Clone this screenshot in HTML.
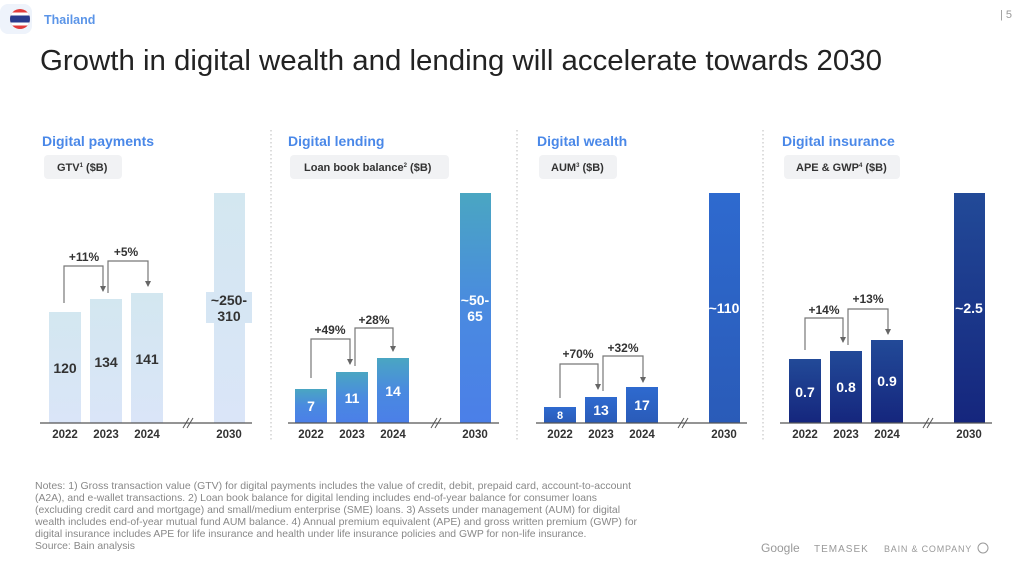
<!DOCTYPE html>
<html><head><meta charset="utf-8"><style>
body{margin:0;width:1024px;height:565px;overflow:hidden;background:#fff;font-family:"Liberation Sans",Arial,sans-serif}
svg text{font-family:"Liberation Sans",Arial,sans-serif}
</style></head><body>
<svg width="1024" height="565" viewBox="0 0 1024 565" xmlns="http://www.w3.org/2000/svg">
<defs>
<linearGradient id="gp" x1="0" y1="0" x2="0" y2="1"><stop offset="0" stop-color="#d3e7f0"/><stop offset="1" stop-color="#dae5f8"/></linearGradient>
<linearGradient id="gl" x1="0" y1="0" x2="0" y2="1"><stop offset="0" stop-color="#4aa6c2"/><stop offset="0.5" stop-color="#4a8ae0"/><stop offset="1" stop-color="#4b7fe8"/></linearGradient>
<linearGradient id="gw" x1="0" y1="0" x2="0" y2="1"><stop offset="0" stop-color="#2e6acf"/><stop offset="1" stop-color="#2a5bb8"/></linearGradient>
<linearGradient id="gi" x1="0" y1="0" x2="0" y2="1"><stop offset="0" stop-color="#224a98"/><stop offset="1" stop-color="#15267d"/></linearGradient>
<marker id="ar" markerWidth="6" markerHeight="6" refX="3" refY="5" orient="0" markerUnits="userSpaceOnUse"><path d="M0,0 L6,0 L3,6 Z" fill="#666"/></marker>
</defs>
<rect x="0" y="4" width="32" height="30" rx="8" fill="#eef3fb"/>
<clipPath id="fc"><circle cx="20" cy="19" r="10"/></clipPath>
<g clip-path="url(#fc)">
<rect x="10" y="9" width="20" height="20" fill="#e23b3b"/>
<rect x="10" y="12.5" width="20" height="13" fill="#fff"/>
<rect x="10" y="15.5" width="20" height="7" fill="#2a3a8e"/>
</g>
<text x="44" y="24" font-size="12.5" font-weight="bold" fill="#5b95e8">Thailand</text>
<text x="1000" y="18" font-size="11" fill="#999">| 5</text>
<text x="40" y="70" font-size="29" fill="#222" textLength="842" lengthAdjust="spacingAndGlyphs">Growth in digital wealth and lending will accelerate towards 2030</text>

<g stroke="#bbb" stroke-dasharray="1.5,2.5" stroke-width="1">
<line x1="271" y1="130" x2="271" y2="442"/>
<line x1="517" y1="130" x2="517" y2="442"/>
<line x1="763" y1="130" x2="763" y2="442"/>
</g>

<g font-weight="bold">
<text x="42" y="146" font-size="14" fill="#4a88e8">Digital payments</text>
<text x="288" y="146" font-size="14" fill="#4a88e8">Digital lending</text>
<text x="537" y="146" font-size="14" fill="#4a88e8">Digital wealth</text>
<text x="782" y="146" font-size="14" fill="#4a88e8">Digital insurance</text>
</g>
<g fill="#f1f2f4">
<rect x="44" y="155" width="78" height="24" rx="4"/>
<rect x="290" y="155" width="159" height="24" rx="4"/>
<rect x="539" y="155" width="78" height="24" rx="4"/>
<rect x="784" y="155" width="116" height="24" rx="4"/>
</g>
<g font-size="11" font-weight="bold" fill="#333">
<text x="57" y="171">GTV<tspan font-size="6" dy="-4">1</tspan><tspan dy="4"> ($B)</tspan></text>
<text x="304" y="171">Loan book balance<tspan font-size="6" dy="-4">2</tspan><tspan dy="4"> ($B)</tspan></text>
<text x="551" y="171">AUM<tspan font-size="6" dy="-4">3</tspan><tspan dy="4"> ($B)</tspan></text>
<text x="796" y="171">APE &amp; GWP<tspan font-size="6" dy="-4">4</tspan><tspan dy="4"> ($B)</tspan></text>
</g>

<rect x="49" y="312" width="32" height="111" fill="url(#gp)"/>
<rect x="90" y="299" width="32" height="124" fill="url(#gp)"/>
<rect x="131" y="293" width="32" height="130" fill="url(#gp)"/>
<rect x="214" y="193" width="31" height="230" fill="url(#gp)"/>
<rect x="206" y="292" width="46" height="31" fill="#d6e6f4"/>
<rect x="295" y="389" width="32" height="34" fill="url(#gl)"/>
<rect x="336" y="372" width="32" height="51" fill="url(#gl)"/>
<rect x="377" y="358" width="32" height="65" fill="url(#gl)"/>
<rect x="460" y="193" width="31" height="230" fill="url(#gl)"/>
<rect x="544" y="407" width="32" height="16" fill="url(#gw)"/>
<rect x="585" y="397" width="32" height="26" fill="url(#gw)"/>
<rect x="626" y="387" width="32" height="36" fill="url(#gw)"/>
<rect x="709" y="193" width="31" height="230" fill="url(#gw)"/>
<rect x="789" y="359" width="32" height="64" fill="url(#gi)"/>
<rect x="830" y="351" width="32" height="72" fill="url(#gi)"/>
<rect x="871" y="340" width="32" height="83" fill="url(#gi)"/>
<rect x="954" y="193" width="31" height="230" fill="url(#gi)"/>

<g stroke="#555" stroke-width="1.3">
<line x1="40" y1="423" x2="252" y2="423"/>
<line x1="288" y1="423" x2="499" y2="423"/>
<line x1="536" y1="423" x2="747" y2="423"/>
<line x1="780" y1="423" x2="992" y2="423"/>
</g>
<g stroke="#555" stroke-width="1">
<line x1="183" y1="428" x2="189" y2="418"/><line x1="187" y1="428" x2="193" y2="418"/>
<line x1="431" y1="428" x2="437" y2="418"/><line x1="435" y1="428" x2="441" y2="418"/>
<line x1="678" y1="428" x2="684" y2="418"/><line x1="682" y1="428" x2="688" y2="418"/>
<line x1="923" y1="428" x2="929" y2="418"/><line x1="927" y1="428" x2="933" y2="418"/>
</g>
<g font-size="11.5" font-weight="bold" fill="#333" text-anchor="middle">
<text x="65" y="438">2022</text><text x="106" y="438">2023</text><text x="147" y="438">2024</text><text x="229" y="438">2030</text>
<text x="311" y="438">2022</text><text x="352" y="438">2023</text><text x="393" y="438">2024</text><text x="475" y="438">2030</text>
<text x="560" y="438">2022</text><text x="601" y="438">2023</text><text x="642" y="438">2024</text><text x="724" y="438">2030</text>
<text x="805" y="438">2022</text><text x="846" y="438">2023</text><text x="887" y="438">2024</text><text x="969" y="438">2030</text>
</g>

<g font-size="14" font-weight="bold" text-anchor="middle">
<g fill="#333">
<text x="65" y="373">120</text><text x="106" y="367">134</text><text x="147" y="364">141</text>
<text x="229" y="305">~250-</text><text x="229" y="321">310</text>
</g>
<g fill="#fff">
<text x="311" y="411">7</text><text x="352" y="403">11</text><text x="393" y="396">14</text>
<text x="475" y="305">~50-</text><text x="475" y="321">65</text>
<text x="560" y="419" font-size="11">8</text><text x="601" y="415">13</text><text x="642" y="410">17</text>
<text x="724" y="313">~110</text>
<text x="805" y="397">0.7</text><text x="846" y="392">0.8</text><text x="887" y="386">0.9</text>
<text x="969" y="313">~2.5</text>
</g>
</g>

<g fill="none" stroke="#777" stroke-width="1.2">
<path d="M64,303 V266 H103 V291" marker-end="url(#ar)"/>
<path d="M108,293 V261 H148 V286" marker-end="url(#ar)"/>
<path d="M311,378 V339 H350 V364" marker-end="url(#ar)"/>
<path d="M355,366 V328 H393 V351" marker-end="url(#ar)"/>
<path d="M560,398 V364 H598 V389" marker-end="url(#ar)"/>
<path d="M603,391 V356 H643 V382" marker-end="url(#ar)"/>
<path d="M805,350 V318 H843 V342" marker-end="url(#ar)"/>
<path d="M848,345 V309 H888 V334" marker-end="url(#ar)"/>
</g>
<g font-size="12" font-weight="bold" fill="#333" text-anchor="middle">
<text x="84" y="261">+11%</text><text x="126" y="256">+5%</text>
<text x="330" y="334">+49%</text><text x="374" y="324">+28%</text>
<text x="578" y="358">+70%</text><text x="623" y="352">+32%</text>
<text x="824" y="314">+14%</text><text x="868" y="303">+13%</text>
</g>

<g font-size="10.4" fill="#888">
<text x="35" y="489" textLength="596" lengthAdjust="spacingAndGlyphs">Notes: 1) Gross transaction value (GTV) for digital payments includes the value of credit, debit, prepaid card, account-to-account</text>
<text x="35" y="501">(A2A), and e-wallet transactions. 2) Loan book balance for digital lending includes end-of-year balance for consumer loans</text>
<text x="35" y="513">(excluding credit card and mortgage) and small/medium enterprise (SME) loans. 3) Assets under management (AUM) for digital</text>
<text x="35" y="525" textLength="602" lengthAdjust="spacingAndGlyphs">wealth includes end-of-year mutual fund AUM balance. 4) Annual premium equivalent (APE) and gross written premium (GWP) for</text>
<text x="35" y="537">digital insurance includes APE for life insurance and health under life insurance policies and GWP for non-life insurance.</text>
<text x="35" y="549">Source: Bain analysis</text>
</g>
<text x="761" y="552" font-size="12" fill="#999">Google</text>
<text x="814" y="552" font-size="10" fill="#999" font-family="Liberation Serif,serif" letter-spacing="1">TEMASEK</text>
<text x="884" y="552" font-size="9" fill="#999" letter-spacing="0.8">BAIN &amp; COMPANY</text>
<circle cx="983" cy="548" r="5" fill="none" stroke="#999"/>
</svg>
</body></html>
